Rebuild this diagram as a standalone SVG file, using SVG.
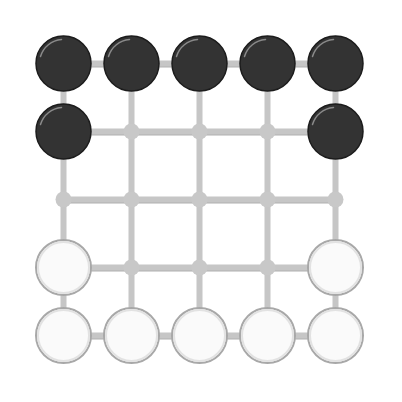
<svg xmlns="http://www.w3.org/2000/svg" width="402" height="402" viewBox="0 0 402 402">
<defs>
<style>
.e{stroke:#c6c6c6;stroke-width:6;fill:none}
.es{stroke:#b0b0b0;stroke-width:6;fill:none}
.dot{fill:#c8c8c8}
.b{fill:#333333;stroke:#1c1c1c;stroke-width:1.5}
.bh{fill:none;stroke:#8a8a8a;stroke-width:1.5;stroke-linecap:round}
.w{fill:#fafafa;stroke:#a8a8a8;stroke-width:2}
.wh{fill:none;stroke:#e2e2e2;stroke-width:2}
</style>
<g id="black"><circle class="b" r="27.5"/><path class="bh" d="M-23,-7 A24,24 0 0 1 -2,-24"/></g>
<g id="white"><circle class="w" r="27.5"/><circle class="wh" r="25.5"/></g>
</defs>
<rect width="402" height="402" fill="#ffffff"/>
<g id="connectors">
<g transform="translate(0,1)">
<path class="es" d="M63.5,63.5H335.5M63.5,131.5H335.5M63.5,199.5H335.5M63.5,267.5H335.5M63.5,335.5H335.5"/>
</g>
<path class="e" d="M63.5,63.5H335.5M63.5,131.5H335.5M63.5,199.5H335.5M63.5,267.5H335.5M63.5,335.5H335.5"/>
<path class="e" d="M63.5,63.5V335.5M131.5,63.5V335.5M199.5,63.5V335.5M267.5,63.5V335.5M335.5,63.5V335.5"/>
</g>
<g id="n00"><use href="#black" x="63.5" y="63.5"/></g>
<g id="n01"><use href="#black" x="131.5" y="63.5"/></g>
<g id="n02"><use href="#black" x="199.5" y="63.5"/></g>
<g id="n03"><use href="#black" x="267.5" y="63.5"/></g>
<g id="n04"><use href="#black" x="335.5" y="63.5"/></g>
<g id="n10"><use href="#black" x="63.5" y="131.5"/></g>
<g id="n11"><circle class="dot" cx="131.5" cy="131.5" r="8"/></g>
<g id="n12"><circle class="dot" cx="199.5" cy="131.5" r="8"/></g>
<g id="n13"><circle class="dot" cx="267.5" cy="131.5" r="8"/></g>
<g id="n14"><use href="#black" x="335.5" y="131.5"/></g>
<g id="n20"><circle class="dot" cx="63.5" cy="199.5" r="8"/></g>
<g id="n21"><circle class="dot" cx="131.5" cy="199.5" r="8"/></g>
<g id="n22"><circle class="dot" cx="199.5" cy="199.5" r="8"/></g>
<g id="n23"><circle class="dot" cx="267.5" cy="199.5" r="8"/></g>
<g id="n24"><circle class="dot" cx="335.5" cy="199.5" r="8"/></g>
<g id="n30"><use href="#white" x="63.5" y="267.5"/></g>
<g id="n31"><circle class="dot" cx="131.5" cy="267.5" r="8"/></g>
<g id="n32"><circle class="dot" cx="199.5" cy="267.5" r="8"/></g>
<g id="n33"><circle class="dot" cx="267.5" cy="267.5" r="8"/></g>
<g id="n34"><use href="#white" x="335.5" y="267.5"/></g>
<g id="n40"><use href="#white" x="63.5" y="335.5"/></g>
<g id="n41"><use href="#white" x="131.5" y="335.5"/></g>
<g id="n42"><use href="#white" x="199.5" y="335.5"/></g>
<g id="n43"><use href="#white" x="267.5" y="335.5"/></g>
<g id="n44"><use href="#white" x="335.5" y="335.5"/></g>
</svg>
